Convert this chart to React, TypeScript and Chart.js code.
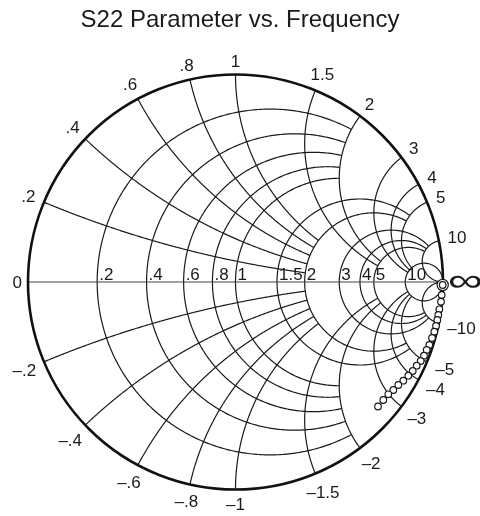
import React, { useEffect, useRef } from "react";
import { Chart, registerables } from "chart.js";

Chart.register(...registerables);

// ---------- data ----------
const titleText = "S22 Parameter vs. Frequency";

const s22Real = [
  0.9986, 0.9937, 0.9904, 0.9822, 0.9773, 0.9725, 0.9663, 0.9581, 0.947, 0.934,
  0.9214, 0.9084, 0.8925, 0.8733, 0.854, 0.8328, 0.8087, 0.7846, 0.7605, 0.7364,
  0.7123, 0.6867,
];
const s22Imag = [
  -0.0145, -0.0627, -0.0949, -0.1316, -0.159, -0.1831, -0.212, -0.2395, -0.2699,
  -0.3036, -0.3277, -0.3552, -0.3807, -0.4034, -0.4289, -0.4516, -0.4757, -0.4964,
  -0.5205, -0.5412, -0.5687, -0.6,
];

// Smith grid: circle values, how far each is drawn, and their labels
const gridValues = [0.2, 0.4, 0.6, 0.8, 1, 1.5, 2, 3, 4, 5, 10];
const gridLimits = [2, 2, 2, 2, 2, 5, 5, 10, 10, 10, Infinity];
const gridLabels = [".2", ".4", ".6", ".8", "1", "1.5", "2", "3", "4", "5", "10"];
const zeroLabel = "0";
const infLabel = "\u221E";
const minusSign = "\u2013";

// ---------- layout ----------
const W = 480;
const H = 516;
const CX = 235.5;
const CY = 282;
const RAD = 207.5;
const TITLE_SIZE = 24;
const TITLE_PAD_TOP = 6;
const TITLE_PAD_BOTTOM = 4;

const FONT_FAMILY = '"Liberation Sans", Arial, Helvetica, sans-serif';
const LABEL_SIZE = 17;
const INK = "#1a1a1a";

function gamma(r: number, x: number): [number, number] {
  const a = r - 1;
  const c = r + 1;
  const den = c * c + x * x;
  return [(a * c + x * x) / den, (x * c - a * x) / den];
}

const smithPlugin = {
  id: "smithGrid",
  beforeDatasetsDraw(chart: any) {
    const { ctx } = chart;
    const xs = chart.scales.x;
    const ys = chart.scales.y;
    const px = (g: [number, number]) => [xs.getPixelForValue(g[0]), ys.getPixelForValue(g[1])];
    const N = 360;
    ctx.save();
    ctx.lineWidth = 1.2;
    ctx.strokeStyle = INK;
    ctx.lineJoin = "round";
    // resistance circles
    gridValues.forEach((r, i) => {
      const lim = gridLimits[i];
      const t0 = -Math.atan(lim);
      const t1 = Math.atan(lim);
      ctx.beginPath();
      for (let k = 0; k <= N; k++) {
        const t = t0 + ((t1 - t0) * k) / N;
        const x = Math.abs(Math.abs(t) - Math.PI / 2) < 1e-9 ? Math.sign(t) * 1e12 : Math.tan(t);
        const p = px(gamma(r, x));
        if (k === 0) ctx.moveTo(p[0], p[1]);
        else ctx.lineTo(p[0], p[1]);
      }
      ctx.stroke();
    });
    // reactance arcs
    gridValues.forEach((xv, i) => {
      const lim = gridLimits[i];
      const t1 = Math.atan(lim);
      [1, -1].forEach((s) => {
        ctx.beginPath();
        for (let k = 0; k <= N; k++) {
          const t = (t1 * k) / N;
          const r = Math.abs(t - Math.PI / 2) < 1e-9 ? 1e12 : Math.tan(t);
          const p = px(gamma(r, s * xv));
          if (k === 0) ctx.moveTo(p[0], p[1]);
          else ctx.lineTo(p[0], p[1]);
        }
        ctx.stroke();
      });
    });
    // real axis
    ctx.strokeStyle = "#444";
    ctx.lineWidth = 1.1;
    ctx.beginPath();
    const a0 = px([-1, 0]);
    const a1 = px([1, 0]);
    ctx.moveTo(a0[0], a0[1]);
    ctx.lineTo(a1[0], a1[1]);
    ctx.stroke();
    // outer circle
    const c0 = px([0, 0]);
    const rr = xs.getPixelForValue(1) - xs.getPixelForValue(0);
    ctx.strokeStyle = "#111";
    ctx.lineWidth = 2.6;
    ctx.beginPath();
    ctx.arc(c0[0], c0[1], rr, 0, Math.PI * 2);
    ctx.stroke();
    ctx.restore();
  },
  afterDraw(chart: any) {
    const { ctx } = chart;
    const xs = chart.scales.x;
    const ys = chart.scales.y;
    const px = (g: [number, number]) => [xs.getPixelForValue(g[0]), ys.getPixelForValue(g[1])];
    ctx.save();
    ctx.fillStyle = INK;
    ctx.font = `${LABEL_SIZE}px ${FONT_FAMILY}`;
    const capH = LABEL_SIZE * 0.716;
    const axisY = ys.getPixelForValue(0);
    // real-axis labels
    ctx.textAlign = "left";
    ctx.textBaseline = "alphabetic";
    gridValues.forEach((r, i) => {
      const p = px(gamma(r, 0));
      ctx.fillText(gridLabels[i], p[0] + 2, axisY - 2);
    });
    const left = px([-1, 0]);
    ctx.textAlign = "right";
    ctx.fillText(zeroLabel, left[0] - 6, axisY + capH / 2);
    // infinity label
    const right = px([1, 0]);
    ctx.save();
    ctx.font = `200 38px "DejaVu Sans ExtraLight", "DejaVu Sans", sans-serif`;
    ctx.textAlign = "left";
    ctx.textBaseline = "middle";
    ctx.translate(right[0] + 5, axisY + 1);
    ctx.scale(1.3, 0.85);
    ctx.fillText(infLabel, 0, 0);
    ctx.restore();
    // rim labels
    ctx.textAlign = "center";
    const gap = 8;
    gridValues.forEach((xv, i) => {
      [1, -1].forEach((s) => {
        const g = gamma(0, s * xv);
        const p = px(g);
        const dx = g[0];
        const dy = -g[1];
        const text = s > 0 ? gridLabels[i] : minusSign + gridLabels[i];
        const w = ctx.measureText(text).width;
        const off = gap + (w / 2) * Math.abs(dx) + (capH / 2) * Math.abs(dy);
        const cx = p[0] + off * dx;
        const cy = p[1] + off * dy;
        ctx.fillText(text, cx, cy + capH / 2);
      });
    });
    ctx.restore();
  },
};

export default function App() {
  const ref = useRef<HTMLCanvasElement>(null);
  useEffect(() => {
    const canvas = ref.current;
    if (!canvas) return;
    const points = s22Real.map((v, i) => ({ x: v, y: s22Imag[i] }));
    const chart = new Chart(canvas, {
      type: "scatter",
      data: {
        datasets: [
          {
            label: "S22",
            data: points,
            showLine: false,
            pointRadius: 3.3,
            pointBorderWidth: 1.2,
            pointBorderColor: INK,
            pointBackgroundColor: "#fff",
          },
          {
            label: "start",
            data: [points[0]],
            showLine: false,
            pointRadius: 5.6,
            pointBorderWidth: 1.2,
            pointBorderColor: INK,
            pointBackgroundColor: "#fff",
          },
        ],
      },
      options: {
        responsive: false,
        animation: false,
        events: [],
        layout: { padding: 0, autoPadding: false },
        scales: {
          x: { type: "linear", min: -1.2, max: 1.2, bounds: "data", display: false },
          y: { type: "linear", min: -1.2, max: 1.2, bounds: "data", display: false },
        },
        plugins: {
          legend: { display: false },
          tooltip: { enabled: false },
          title: {
            display: true,
            text: titleText,
            color: INK,
            font: { family: FONT_FAMILY, size: TITLE_SIZE, weight: "normal", lineHeight: 1.2 },
            padding: { top: TITLE_PAD_TOP, bottom: TITLE_PAD_BOTTOM },
          },
        },
      },
      plugins: [smithPlugin],
    });
    // fit the scale ranges so that the unit circle sits at the chosen centre and radius
    const area = chart.chartArea;
    const xo: any = chart.options.scales!.x;
    const yo: any = chart.options.scales!.y;
    xo.min = -(CX - area.left) / RAD;
    xo.max = xo.min + (area.right - area.left) / RAD;
    yo.min = -(area.bottom - CY) / RAD;
    yo.max = yo.min + (area.bottom - area.top) / RAD;
    chart.update();
    return () => chart.destroy();
  }, []);
  return (
    <div style={{ position: "absolute", left: 0, top: 0, width: W, height: H, background: "#fff" }}>
      <canvas ref={ref} width={W} height={H} style={{ width: W, height: H, display: "block" }} />
    </div>
  );
}
